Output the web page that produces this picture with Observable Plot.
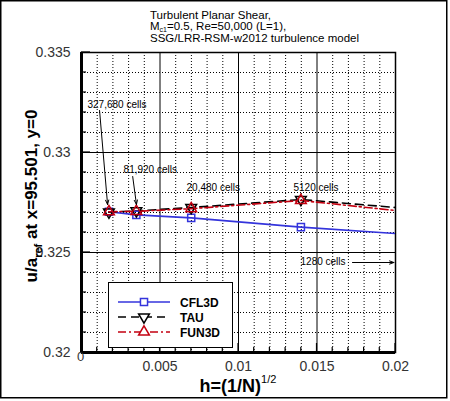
<!DOCTYPE html>
<html><head><meta charset="utf-8">
<script src="https://cdn.jsdelivr.net/npm/d3@7"></script>
<script src="https://cdn.jsdelivr.net/npm/@observablehq/plot@0.6"></script>
<style>html,body{margin:0;padding:0;background:#fff;} svg{display:block;}</style>
</head><body><div id="chart"></div>
<script>
// ---- data ----
const cellLabels = ["327,680 cells", "81,920 cells", "20,480 cells", "5120 cells", "1280 cells"];
const h      = [0.001747, 0.003494, 0.006988, 0.013975, 0.027951];
const cfl3d  = [0.32704, 0.32688, 0.32673, 0.32627, 0.32553];
const tau    = [0.32702, 0.32708, 0.32725, 0.32765, 0.32672];
const fun3d  = [0.32704, 0.32706, 0.32719, 0.32760, 0.32644];
const seriesNames = ["CFL3D", "TAU", "FUN3D"];
const xTicks = [0, 0.005, 0.01, 0.015, 0.02];
const yTicks = [0.32, 0.325, 0.33, 0.335];
const titleLine1 = "Turbulent Planar Shear,";
const titleLine3 = "SSG/LRR-RSM-w2012 turbulence model";

// annotations (label text + anchor in data units)
const notes = [
  {text: cellLabels[0], x: 0.00038, y: 0.33240},
  {text: cellLabels[1], x: 0.00268, y: 0.32915},
  {text: cellLabels[2], x: 0.00669, y: 0.32825},
  {text: cellLabels[3], x: 0.01350, y: 0.32825},
  {text: cellLabels[4], x: 0.01395, y: 0.32455}
];
const arrows = [
  {x1: 0.00115, y1: 0.33210, x2: 0.00166, y2: 0.32740},
  {x1: 0.00326, y1: 0.32880, x2: 0.00350, y2: 0.32740},
  {x1: 0.01726, y1: 0.32450, x2: 0.01990, y2: 0.32450}
];

const colors = {CFL3D: "#3434dc", TAU: "#000000", FUN3D: "#c40010"};
const dashes = {CFL3D: null, TAU: "8,5", FUN3D: "8,3,2,3"};
const sqrt3 = Math.sqrt(3);
const triangleDown = {draw(ctx, size) {
  const y = -Math.sqrt(size / (sqrt3 * 3));
  ctx.moveTo(0, -y * 2); ctx.lineTo(-sqrt3 * y, y); ctx.lineTo(sqrt3 * y, y); ctx.closePath();
}};
const symbols = {CFL3D: d3.symbolSquare, TAU: triangleDown, FUN3D: d3.symbolTriangle};

const rows = (vals, name) => h.map((x, i) => ({x, y: vals[i], series: name}));
const data = {CFL3D: rows(cfl3d, "CFL3D"), TAU: rows(tau, "TAU"), FUN3D: rows(fun3d, "FUN3D")};

const xMinor = d3.ticks(0, 0.02, 20).filter(v => !xTicks.some(t => Math.abs(t - v) < 1e-9));
const yMinor = d3.ticks(0.32, 0.335, 15).filter(v => !yTicks.some(t => Math.abs(t - v) < 1e-9));

const seriesMarks = [];
for (const s of seriesNames) {
  seriesMarks.push(Plot.line(data[s], {x: "x", y: "y", stroke: colors[s], strokeWidth: 1.6,
    strokeDasharray: dashes[s], clip: true}));
}
for (const s of seriesNames) {
  seriesMarks.push(Plot.dot(data[s].filter(d => d.x <= 0.02), {x: "x", y: "y", symbol: () => symbols[s],
    r: 4, stroke: colors[s], strokeWidth: 1.5, fill: "none"}));
}

const plot = Plot.plot({
  width: 450, height: 401,
  marginLeft: 81, marginRight: 55, marginTop: 52, marginBottom: 49,
  x: {domain: [0, 0.02]},
  y: {domain: [0.32, 0.335]},
  symbol: {type: "identity"},
  style: {fontFamily: "'Liberation Sans', Arial, sans-serif", background: "white", color: "#222"},
  marks: [
    Plot.ruleX(xMinor, {stroke: "#000", strokeDasharray: "1,2", strokeWidth: 1}),
    Plot.ruleY(yMinor, {stroke: "#000", strokeDasharray: "1,2", strokeWidth: 1}),
    Plot.ruleX(xTicks, {stroke: "#000", strokeWidth: 1}),
    Plot.ruleY(yTicks, {stroke: "#000", strokeWidth: 1}),
    Plot.frame({stroke: "#000", strokeWidth: 1.5}),
    Plot.ruleX([0], {stroke: "#000", strokeWidth: 3}),
    Plot.ruleY([0.32], {stroke: "#000", strokeWidth: 3}),
    Plot.axisX(xTicks.filter(v => v > 0), {tickSize: 0, tickPadding: 9, fontSize: 14, label: null, tickFormat: v => String(v), fill: "#333"}),
    Plot.text([0], {x: d => d, frameAnchor: "bottom", dy: 8, dx: -1, text: d => String(d), fontSize: 13, fill: "#333"}),
    Plot.axisY(yTicks, {tickSize: 0, tickPadding: 11, fontSize: 14, label: null, tickFormat: v => String(v), fill: "#333"}),
    ...seriesMarks,
    Plot.arrow(arrows, {x1: "x1", y1: "y1", x2: "x2", y2: "y2", stroke: "#000", strokeWidth: 1, headLength: 7, headAngle: 40}),
    Plot.text(notes, {x: "x", y: "y", text: "text", textAnchor: "start", fontSize: 10, fill: "#000"})
  ]
});
document.getElementById("chart").appendChild(plot);

// ---- decorations using the plot's scales ----
const svg = d3.select(plot);
const sx = plot.scale("x"), sy = plot.scale("y");
const x0 = sx.apply(0), y0 = sy.apply(0.32);
const tickG = svg.append("g").attr("stroke", "#000").attr("stroke-width", 1.2);
for (const v of yTicks) tickG.append("line").attr("x1", x0).attr("x2", x0 + 9).attr("y1", sy.apply(v)).attr("y2", sy.apply(v));
for (const v of yMinor) tickG.append("line").attr("x1", x0).attr("x2", x0 + 5).attr("y1", sy.apply(v)).attr("y2", sy.apply(v));
for (const v of xTicks) tickG.append("line").attr("y1", y0).attr("y2", y0 - 9).attr("x1", sx.apply(v)).attr("x2", sx.apply(v));
for (const v of xMinor) tickG.append("line").attr("y1", y0).attr("y2", y0 - 5).attr("x1", sx.apply(v)).attr("x2", sx.apply(v));

const font = "'Liberation Sans', Arial, sans-serif";
// title
const tg = svg.append("g").attr("font-family", font).attr("font-size", 11.5).attr("fill", "#000").attr("text-anchor", "start");
tg.append("text").attr("x", 150).attr("y", 19).text(titleLine1);
const t2 = tg.append("text").attr("x", 150).attr("y", 30);
t2.append("tspan").text("M");
t2.append("tspan").attr("font-size", 7).attr("dy", 1.5).text("c1");
t2.append("tspan").attr("dy", -1.5).text("=0.5, Re=50,000 (L=1),");
tg.append("text").attr("x", 150).attr("y", 42).text(titleLine3);

// y label
const yl = svg.append("text").attr("font-family", font).attr("font-weight", "bold").attr("font-size", 17)
  .attr("text-anchor", "middle").attr("transform", "translate(37,196) rotate(-90)").attr("fill", "#000");
yl.append("tspan").text("u/a");
yl.append("tspan").attr("font-size", 11).attr("dy", 5).text("ref");
yl.append("tspan").attr("dy", -5).text(" at x=95.501, y=0");

// x label
const xl = svg.append("text").attr("font-family", font).attr("font-weight", "bold").attr("font-size", 18)
  .attr("text-anchor", "middle").attr("x", (sx.apply(0) + sx.apply(0.02)) / 2).attr("y", 392).attr("fill", "#000");
xl.append("tspan").text("h=(1/N)");
xl.append("tspan").attr("font-size", 11).attr("dy", -9).attr("font-weight", "normal").text("1/2");

// legend
const lg = svg.append("g").attr("font-family", font).attr("text-anchor", "start");
lg.append("rect").attr("x", 108.5).attr("y", 282.5).attr("width", 124).attr("height", 65)
  .attr("fill", "white").attr("stroke", "#000").attr("stroke-width", 1);
seriesNames.forEach((s, i) => {
  const y = 302 + i * 15;
  lg.append("line").attr("x1", 118).attr("x2", 170).attr("y1", y).attr("y2", y)
    .attr("stroke", colors[s]).attr("stroke-width", 1.6).attr("stroke-dasharray", dashes[s]);
  lg.append("path").attr("d", d3.symbol(symbols[s], Math.PI * 16)()).attr("transform", `translate(144,${y})`)
    .attr("fill", "white").attr("stroke", colors[s]).attr("stroke-width", 1.5);
  lg.append("text").attr("x", 180).attr("y", y + 4.5).attr("font-size", 12).attr("font-weight", "bold").attr("fill", "#000").text(s);
});

// outer border
svg.append("rect").attr("x", 0.75).attr("y", 0.75).attr("width", 446).attr("height", 397)
  .attr("fill", "none").attr("stroke", "#000").attr("stroke-width", 1.5);
</script>
</body></html>
